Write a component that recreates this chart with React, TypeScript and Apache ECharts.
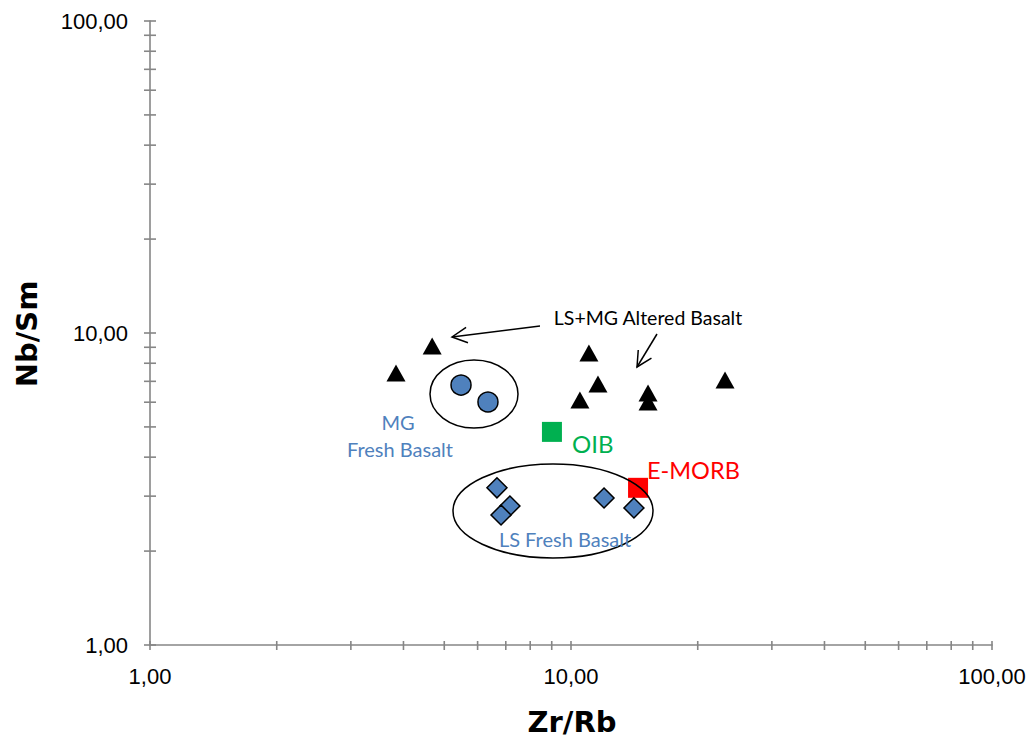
import React, { useEffect, useRef } from "react";
import * as echarts from "echarts";

// Zr/Rb vs Nb/Sm ratios
const alteredBasalt: [number, number][] = [
  [3.84, 7.44],
  [4.68, 9.08],
  [11.03, 8.63],
  [11.59, 6.86],
  [10.5, 6.1],
  [15.24, 6.42],
  [15.24, 6.01],
  [23.22, 7.07],
];
const mgFreshBasalt: [number, number][] = [
  [5.48, 6.81],
  [6.35, 6.01],
];
const lsFreshBasalt: [number, number][] = [
  [6.67, 3.19],
  [7.16, 2.79],
  [6.82, 2.61],
  [11.98, 2.96],
  [14.11, 2.75],
];
const oib: [number, number][] = [[9.01, 4.82]];
const eMorb: [number, number][] = [[14.43, 3.19]];

// log-axis ticks: decades plus the 2..9 subdivisions
const majorTicks = [1, 10, 100];
const minorTicks = [2, 3, 4, 5, 6, 7, 8, 9, 20, 30, 40, 50, 60, 70, 80, 90];

const AXIS_GRAY = "#868686";
const BLUE = "#4F81BD";
const LABEL_FONT = "Lato, 'Open Sans', sans-serif";

const fmt = (v: number) => v.toFixed(2).replace(".", ",");

function arrow(x1: number, y1: number, x2: number, y2: number) {
  const ang = Math.atan2(y2 - y1, x2 - x1);
  const len = 17;
  const spread = (27 * Math.PI) / 180;
  const a1 = ang + Math.PI - spread;
  const a2 = ang + Math.PI + spread;
  const style = { stroke: "#000", lineWidth: 1.5, fill: "none" };
  return [
    { type: "line", shape: { x1, y1, x2, y2 }, style },
    {
      type: "polyline",
      shape: {
        points: [
          [x2 + len * Math.cos(a1), y2 + len * Math.sin(a1)],
          [x2, y2],
          [x2 + len * Math.cos(a2), y2 + len * Math.sin(a2)],
        ],
      },
      style,
    },
  ];
}

export default function App() {
  const ref = useRef<HTMLDivElement>(null);

  useEffect(() => {
    if (!ref.current) return;
    const chart = echarts.init(ref.current, undefined, { renderer: "svg" });

    const tickData = [
      ...majorTicks.map((v) => [v]),
      ...minorTicks.map((v) => [v]),
    ];

    const axisCommon = {
      type: "log" as const,
      logBase: 10,
      min: 1,
      max: 100,
      axisLine: { show: true, lineStyle: { color: AXIS_GRAY, width: 1.6 } },
      axisTick: { show: false },
      minorTick: { show: false },
      splitLine: { show: false },
    };

    const labelStyle = {
      formatter: fmt,
      fontSize: 22,
      color: "#000",
      fontFamily: "'Liberation Sans', Arial, sans-serif",
    };

    chart.setOption({
      animation: false,
      backgroundColor: "#fff",
      grid: { left: 150, right: 42, top: 21, bottom: 97 },
      xAxis: { ...axisCommon, axisLabel: { ...labelStyle, margin: 20 } },
      yAxis: { ...axisCommon, axisLabel: { ...labelStyle, margin: 22 } },
      series: [
        {
          type: "custom",
          name: "xTicks",
          silent: true,
          clip: false,
          z: 1,
          data: tickData,
          renderItem: (_p: any, api: any) => {
            const pt = api.coord([api.value(0), 1]);
            return {
              type: "line",
              shape: { x1: pt[0], y1: pt[1] - 4, x2: pt[0], y2: pt[1] + 5 },
              style: { stroke: AXIS_GRAY, lineWidth: 1.6 },
            };
          },
          encode: { x: 0 },
        },
        {
          type: "custom",
          name: "yTicks",
          silent: true,
          clip: false,
          z: 1,
          data: tickData,
          renderItem: (_p: any, api: any) => {
            const pt = api.coord([1, api.value(0)]);
            return {
              type: "line",
              shape: { x1: pt[0] - 6, y1: pt[1], x2: pt[0] + 6, y2: pt[1] },
              style: { stroke: AXIS_GRAY, lineWidth: 1.6 },
            };
          },
          encode: { y: 0 },
        },
        {
          type: "scatter",
          name: "OIB",
          data: oib,
          symbol: "rect",
          symbolSize: 20,
          itemStyle: { color: "#00B050", opacity: 1 },
          z: 2,
        },
        {
          type: "scatter",
          name: "E-MORB",
          data: eMorb,
          symbol: "rect",
          symbolSize: 20,
          itemStyle: { color: "#FF0000", opacity: 1 },
          z: 2,
        },
        {
          type: "scatter",
          name: "LS+MG Altered Basalt",
          data: alteredBasalt,
          symbol: "triangle",
          symbolSize: [19, 17],
          itemStyle: { color: "#000", opacity: 1 },
          z: 3,
        },
        {
          type: "scatter",
          name: "MG Fresh Basalt",
          data: mgFreshBasalt,
          symbol: "circle",
          symbolSize: 20,
          itemStyle: {
            color: BLUE,
            borderColor: "#000",
            borderWidth: 1.5,
            opacity: 1,
          },
          z: 3,
        },
        {
          type: "scatter",
          name: "LS Fresh Basalt",
          data: lsFreshBasalt,
          symbol: "diamond",
          symbolSize: 20,
          itemStyle: {
            color: BLUE,
            borderColor: "#000",
            borderWidth: 1.5,
            opacity: 1,
          },
          z: 4,
        },
      ],
      graphic: [
        // axis titles
        {
          type: "text",
          x: 572,
          y: 722,
          style: {
            text: "Zr/Rb",
            font: "bold 29px 'DejaVu Sans', Verdana, sans-serif",
            fill: "#000",
            align: "center",
            verticalAlign: "middle",
          },
        },
        {
          type: "text",
          x: 27,
          y: 334,
          rotation: Math.PI / 2,
          style: {
            text: "Nb/Sm",
            font: "bold 29px 'DejaVu Sans', Verdana, sans-serif",
            fill: "#000",
            align: "center",
            verticalAlign: "middle",
          },
        },
        // group outlines
        {
          type: "ellipse",
          shape: { cx: 474, cy: 394, rx: 44, ry: 34 },
          style: { stroke: "#000", lineWidth: 1.5, fill: "none" },
          z: 10,
        },
        {
          type: "ellipse",
          shape: { cx: 553, cy: 511, rx: 100, ry: 47 },
          style: { stroke: "#000", lineWidth: 1.5, fill: "none" },
          z: 10,
        },
        ...arrow(540, 326, 452, 337).map((g) => ({ ...g, z: 10 })),
        ...arrow(657, 334, 637, 367).map((g) => ({ ...g, z: 10 })),
        // annotations
        {
          type: "text",
          x: 648,
          y: 317,
          z: 10,
          style: {
            text: "LS+MG Altered Basalt",
            font: `19.5px ${LABEL_FONT}`,
            fill: "#000",
            align: "center",
            verticalAlign: "middle",
          },
        },
        {
          type: "text",
          x: 398,
          y: 422,
          z: 10,
          style: {
            text: "MG",
            font: `20px ${LABEL_FONT}`,
            fill: BLUE,
            align: "center",
            verticalAlign: "middle",
          },
        },
        {
          type: "text",
          x: 400,
          y: 449,
          z: 10,
          style: {
            text: "Fresh Basalt",
            font: `20px ${LABEL_FONT}`,
            fill: BLUE,
            align: "center",
            verticalAlign: "middle",
          },
        },
        {
          type: "text",
          x: 565,
          y: 539,
          z: 10,
          style: {
            text: "LS Fresh Basalt",
            font: `20px ${LABEL_FONT}`,
            fill: BLUE,
            align: "center",
            verticalAlign: "middle",
          },
        },
        {
          type: "text",
          x: 572,
          y: 443,
          z: 10,
          style: {
            text: "OIB",
            font: `24px ${LABEL_FONT}`,
            fill: "#00B050",
            align: "left",
            verticalAlign: "middle",
          },
        },
        {
          type: "text",
          x: 647,
          y: 470,
          z: 10,
          style: {
            text: "E-MORB",
            font: `23.5px ${LABEL_FONT}`,
            fill: "#FF0000",
            align: "left",
            verticalAlign: "middle",
          },
        },
      ],
    });

    return () => chart.dispose();
  }, []);

  return (
    <div
      ref={ref}
      style={{
        position: "fixed",
        left: 0,
        top: 0,
        width: 1034,
        height: 742,
        background: "#fff",
      }}
    />
  );
}
